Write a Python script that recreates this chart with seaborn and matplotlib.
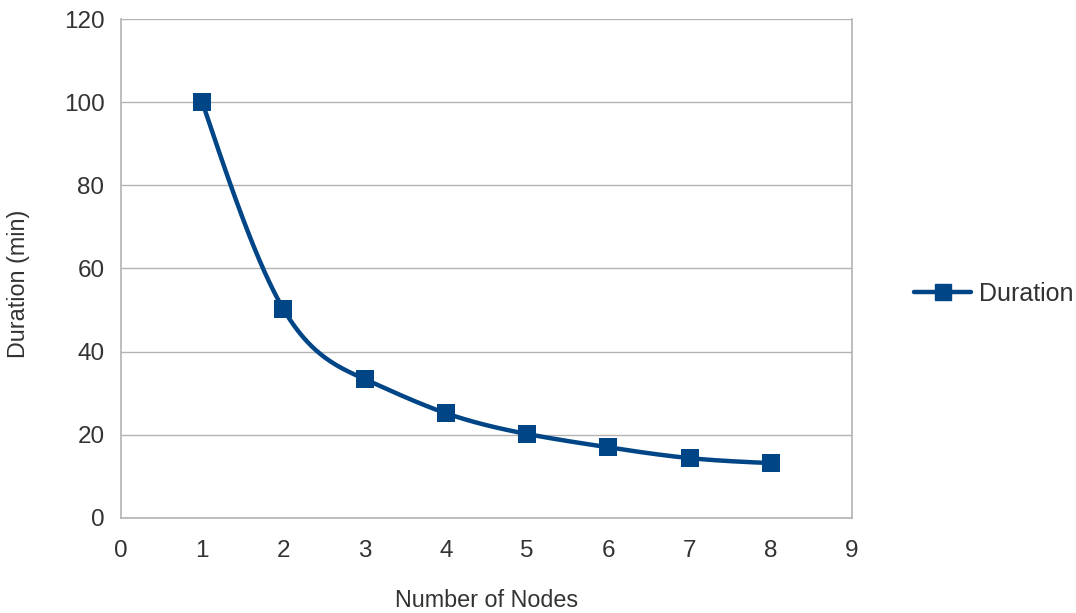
import numpy as np
import pandas as pd
import matplotlib
matplotlib.use("Agg")
import matplotlib.pyplot as plt
from matplotlib.lines import Line2D
import seaborn as sns

# data
nodes = [1, 2, 3, 4, 5, 6, 7, 8]
duration = [100.0, 50.2, 33.4, 25.2, 20.2, 17.0, 14.4, 13.2]

x_ticks = [0, 1, 2, 3, 4, 5, 6, 7, 8, 9]
y_ticks = [0, 20, 40, 60, 80, 100, 120]

BLUE = "#004586"
GRID = "#b3b3b3"
TEXT = "#333333"


def natural_spline(x, y, n=400):
    """natural cubic spline through the points, used only to draw the smooth line"""
    x = np.asarray(x, float)
    y = np.asarray(y, float)
    k = len(x)
    h = np.diff(x)
    A = np.zeros((k, k))
    b = np.zeros(k)
    A[0, 0] = A[-1, -1] = 1
    for i in range(1, k - 1):
        A[i, i - 1] = h[i - 1]
        A[i, i] = 2 * (h[i - 1] + h[i])
        A[i, i + 1] = h[i]
        b[i] = 3 * ((y[i + 1] - y[i]) / h[i] - (y[i] - y[i - 1]) / h[i - 1])
    c = np.linalg.solve(A, b)
    xs = np.linspace(x[0], x[-1], n)
    idx = np.clip(np.searchsorted(x, xs) - 1, 0, k - 2)
    dx = xs - x[idx]
    bb = (y[idx + 1] - y[idx]) / h[idx] - h[idx] * (2 * c[idx] + c[idx + 1]) / 3
    d = (c[idx + 1] - c[idx]) / (3 * h[idx])
    ys = y[idx] + bb * dx + c[idx] * dx ** 2 + d * dx ** 3
    return xs, ys


sns.set_style("white")
plt.rcParams["font.family"] = ["Liberation Sans", "DejaVu Sans"]

df = pd.DataFrame({"nodes": nodes, "duration": duration})
xs, ys = natural_spline(nodes, duration)
smooth = pd.DataFrame({"nodes": xs, "duration": ys})

fig = plt.figure(figsize=(10.76, 6.13), dpi=100)
ax = fig.add_axes([0.1125, 0.155, 0.6793, 0.814])

sns.lineplot(data=smooth, x="nodes", y="duration", ax=ax, color=BLUE,
             linewidth=3.2, sort=False, estimator=None, legend=False)
sns.scatterplot(data=df, x="nodes", y="duration", ax=ax, color=BLUE,
                marker="s", s=150, edgecolor=BLUE, linewidth=0, zorder=5, legend=False)

ax.set_xlim(0, 9)
ax.set_ylim(0, 120)
ax.set_xticks(x_ticks)
ax.set_yticks(y_ticks)
ax.yaxis.grid(True, color=GRID, linewidth=1)
ax.set_axisbelow(True)
for side in ["left", "right", "bottom"]:
    ax.spines[side].set_color(GRID)
    ax.spines[side].set_linewidth(1.2)
ax.spines["top"].set_visible(False)
ax.tick_params(axis="both", colors=GRID, labelcolor=TEXT, labelsize=17.5,
               length=8, width=1.2, direction="out")
ax.tick_params(axis="x", pad=8)
ax.tick_params(axis="y", pad=4)

ax.set_xlabel("Number of Nodes", fontsize=16.8, color=TEXT)
ax.xaxis.set_label_coords(0.5, -0.166)
ax.xaxis.label.set_va("center")
ax.set_ylabel("Duration (min)", fontsize=16.8, color=TEXT)
ax.yaxis.set_label_coords(-0.14, 0.47)
ax.yaxis.label.set_va("center")

handle = Line2D([], [], color=BLUE, linewidth=3.2, marker="s", markersize=11)
ax.legend([handle], ["Duration"], loc="center left", bbox_to_anchor=(1.054, 0.449),
          frameon=False, fontsize=18, handlelength=2.3, handletextpad=0.3,
          labelcolor=TEXT)

fig.savefig("out.png", dpi=100)
